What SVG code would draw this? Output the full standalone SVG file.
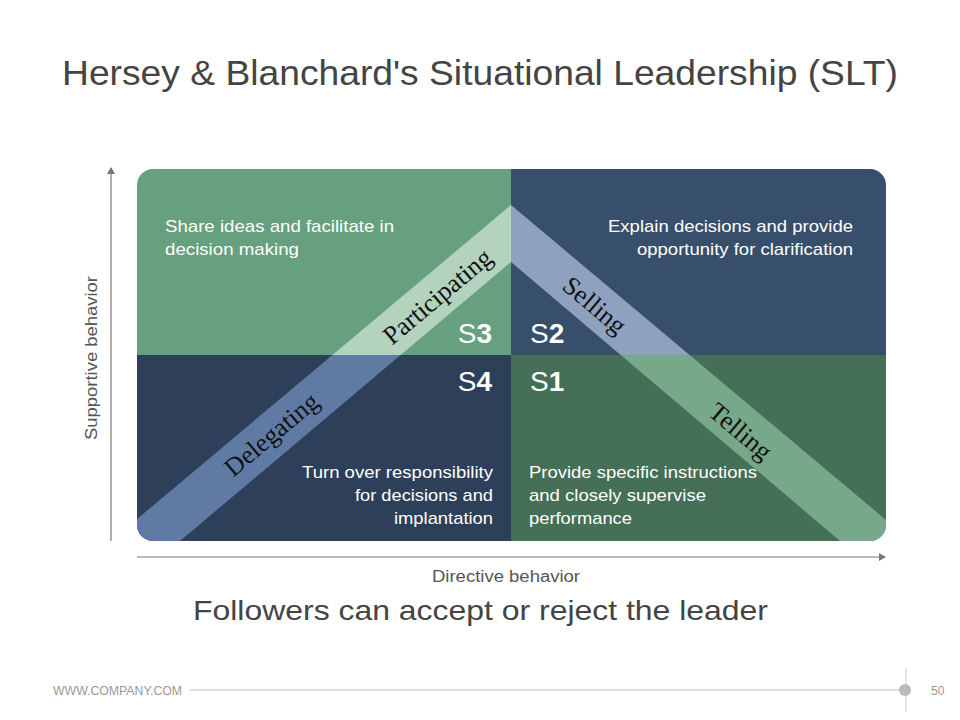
<svg xmlns="http://www.w3.org/2000/svg" width="960" height="720" viewBox="0 0 960 720">
<style>
.s{font-family:"Liberation Sans",Arial,sans-serif}
.w{fill:#fff;font-size:17px}
.b{font-family:"Liberation Serif","Times New Roman",serif;font-size:26px;fill:#111}
.n{fill:#fff;font-size:28px}
</style>
<defs>
<marker id="ar" markerWidth="8" markerHeight="8" refX="6" refY="4" orient="auto" markerUnits="userSpaceOnUse"><path d="M0,0 L7,4 L0,8 Z" fill="#777"/></marker>
<clipPath id="box"><rect x="137" y="169" width="749" height="372" rx="16"/></clipPath>
<clipPath id="tl"><rect x="137" y="169" width="374" height="186"/></clipPath>
<clipPath id="tr"><rect x="511" y="169" width="375" height="186"/></clipPath>
<clipPath id="bl"><rect x="137" y="355" width="374" height="186"/></clipPath>
<clipPath id="br"><rect x="511" y="355" width="375" height="186"/></clipPath>
</defs>
<rect width="960" height="720" fill="#fff"/>
<text x="62" y="85" textLength="836" lengthAdjust="spacingAndGlyphs" class="s" font-size="35" fill="#444">Hersey &amp; Blanchard's Situational Leadership (SLT)</text>
<g id="connectors">
<line x1="111" y1="541" x2="111" y2="168" stroke="#777" stroke-width="1.2" marker-end="url(#ar)"/>
<line x1="137" y1="557" x2="885" y2="557" stroke="#777" stroke-width="1.2" marker-end="url(#ar)"/>
</g>
<text transform="translate(97,358) rotate(-90)" text-anchor="middle" textLength="164" lengthAdjust="spacingAndGlyphs" class="s" font-size="16" fill="#555">Supportive behavior</text>
<text x="432" y="582" textLength="148" lengthAdjust="spacingAndGlyphs" class="s" font-size="16" fill="#555">Directive behavior</text>
<g id="matrix" clip-path="url(#box)">
<rect x="137" y="169" width="374" height="186" fill="#66a07e"/>
<rect x="511" y="169" width="375" height="186" fill="#384f6b"/>
<rect x="137" y="355" width="374" height="186" fill="#2e3f5a"/>
<rect x="511" y="355" width="375" height="186" fill="#456f56"/>
<g id="band">
<polygon points="130,525 511,205 511,262 180,541 130,541" fill="#b4d3bf" clip-path="url(#tl)"/>
<polygon points="130,525 511,205 511,262 180,541 130,541" fill="#5f7ba3" clip-path="url(#bl)"/>
<polygon points="511,205 892,525 892,541 840,541 511,262" fill="#8ea2bf" clip-path="url(#tr)"/>
<polygon points="511,205 892,525 892,541 840,541 511,262" fill="#77a88a" clip-path="url(#br)"/>
</g>
</g>
<g id="q3"><text x="165" y="232" textLength="229" lengthAdjust="spacingAndGlyphs" class="s w">Share ideas and facilitate in</text><text x="165" y="255" textLength="134" lengthAdjust="spacingAndGlyphs" class="s w">decision making</text><text x="492" y="343" text-anchor="end" class="s n">S<tspan font-weight="bold">3</tspan></text></g>
<g id="q2"><text x="608" y="232" textLength="245" lengthAdjust="spacingAndGlyphs" class="s w">Explain decisions and provide</text><text x="637" y="255" textLength="216" lengthAdjust="spacingAndGlyphs" class="s w">opportunity for clarification</text><text x="530" y="343" class="s n">S<tspan font-weight="bold">2</tspan></text></g>
<g id="q4"><text x="492" y="391" text-anchor="end" class="s n">S<tspan font-weight="bold">4</tspan></text><text x="302" y="478" textLength="191" lengthAdjust="spacingAndGlyphs" class="s w">Turn over responsibility</text><text x="355" y="501" textLength="138" lengthAdjust="spacingAndGlyphs" class="s w">for decisions and</text><text x="394" y="524" textLength="99" lengthAdjust="spacingAndGlyphs" class="s w">implantation</text></g>
<g id="q1"><text x="530" y="391" class="s n">S<tspan font-weight="bold">1</tspan></text><text x="529" y="478" textLength="228" lengthAdjust="spacingAndGlyphs" class="s w">Provide specific instructions</text><text x="529" y="501" textLength="177" lengthAdjust="spacingAndGlyphs" class="s w">and closely supervise</text><text x="529" y="524" textLength="103" lengthAdjust="spacingAndGlyphs" class="s w">performance</text></g>
<g id="labels">
<text transform="translate(443,303) rotate(-40)" text-anchor="middle" class="b">Participating</text>
<text transform="translate(277,441) rotate(-40)" text-anchor="middle" class="b">Delegating</text>
<text transform="translate(589,312) rotate(40)" text-anchor="middle" class="b">Selling</text>
<text transform="translate(735,438) rotate(40)" text-anchor="middle" class="b">Telling</text>
</g>
<text x="193" y="620" textLength="575" lengthAdjust="spacingAndGlyphs" class="s" font-size="28" fill="#444">Followers can accept or reject the leader</text>
<g id="footer">
<text x="53" y="695" textLength="129" lengthAdjust="spacingAndGlyphs" class="s" font-size="12" fill="#999">WWW.COMPANY.COM</text>
<line x1="190" y1="690" x2="905" y2="690" stroke="#bbb" stroke-width="1"/>
<line x1="906" y1="668" x2="906" y2="712" stroke="#ccc" stroke-width="1"/>
<circle cx="905" cy="690" r="6" fill="#bbb"/>
<text x="931" y="695" class="s" font-size="12" fill="#999">50</text>
</g>
</svg>
